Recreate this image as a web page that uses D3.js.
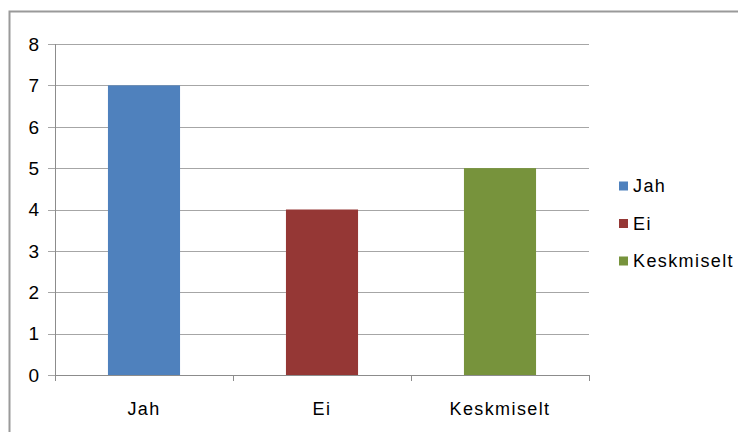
<!DOCTYPE html>
<html>
<head>
<meta charset="utf-8">
<script src="https://cdn.jsdelivr.net/npm/d3@7"></script>
<style>
  html, body { margin: 0; padding: 0; background: #fff; }
  svg text { font-family: "Liberation Sans", Arial, sans-serif; fill: #000; }
</style>
</head>
<body>
<svg id="chart" width="738" height="432"></svg>
<script>
// Survey answers
const categories = ["Jah", "Ei", "Keskmiselt"];
const values = [7, 4, 5];
const colors = ["#4F81BD", "#953735", "#77933C"];
const yTicks = [0, 1, 2, 3, 4, 5, 6, 7, 8];

const svg = d3.select("#chart");

// outer chart frame
svg.append("rect")
  .attr("x", 9.5).attr("y", 11.5)
  .attr("width", 740).attr("height", 440)
  .attr("fill", "none").attr("stroke", "#9a9a9a").attr("stroke-width", 2);

const plot = { left: 55, right: 589, top: 44, bottom: 375 };

const x = d3.scaleBand().domain(categories).range([plot.left, plot.right]).padding(0);
const y = d3.scaleLinear().domain([0, 8]).range([plot.bottom, plot.top]);

// horizontal gridlines
svg.append("g").selectAll("line").data(yTicks).join("line")
  .attr("x1", plot.left - 7).attr("x2", plot.right)
  .attr("y1", d => Math.round(y(d)) + 0.5).attr("y2", d => Math.round(y(d)) + 0.5)
  .attr("stroke", "#a6a6a6").attr("stroke-width", 1);

// bars
const barW = x.bandwidth() * 0.405;
svg.append("g").selectAll("rect").data(categories).join("rect")
  .attr("x", (d) => x(d) + (x.bandwidth() - barW) / 2)
  .attr("y", (d, i) => y(values[i]))
  .attr("width", barW)
  .attr("height", (d, i) => y(0) - y(values[i]))
  .attr("fill", (d, i) => colors[i]);

// y axis line
svg.append("line")
  .attr("x1", plot.left + 0.5).attr("x2", plot.left + 0.5)
  .attr("y1", plot.top).attr("y2", plot.bottom)
  .attr("stroke", "#8c8c8c");

// x axis line and category ticks
svg.append("line")
  .attr("x1", plot.left).attr("x2", plot.right)
  .attr("y1", Math.round(y(0)) + 0.5).attr("y2", Math.round(y(0)) + 0.5)
  .attr("stroke", "#8c8c8c");
const bounds = categories.map(c => x(c)).concat([x(categories[categories.length - 1]) + x.bandwidth()]);
svg.append("g").selectAll("line").data(bounds).join("line")
  .attr("x1", d => Math.round(d) + 0.5).attr("x2", d => Math.round(d) + 0.5)
  .attr("y1", plot.bottom).attr("y2", plot.bottom + 6)
  .attr("stroke", "#8c8c8c");

// y tick labels
svg.append("g").selectAll("text").data(yTicks).join("text")
  .attr("x", 39).attr("y", d => y(d))
  .attr("dy", "0.36em")
  .attr("text-anchor", "end")
  .attr("font-size", 19)
  .text(d => d);

// category labels
svg.append("g").selectAll("text").data(categories).join("text")
  .attr("x", d => x(d) + x.bandwidth() / 2)
  .attr("y", 409)
  .attr("dy", "0.36em")
  .attr("text-anchor", "middle")
  .attr("font-size", 18)
  .attr("letter-spacing", 1.4)
  .text(d => d);

// legend
const legend = svg.append("g").selectAll("g").data(categories).join("g")
  .attr("transform", (d, i) => `translate(619, ${186 + i * 37.5})`);
legend.append("rect")
  .attr("x", 0).attr("y", -4.5).attr("width", 9).attr("height", 9)
  .attr("fill", (d, i) => colors[i]);
legend.append("text")
  .attr("x", 14).attr("y", 0).attr("dy", "0.36em")
  .attr("font-size", 18)
  .attr("letter-spacing", 1.4)
  .text(d => d);
</script>
</body>
</html>
